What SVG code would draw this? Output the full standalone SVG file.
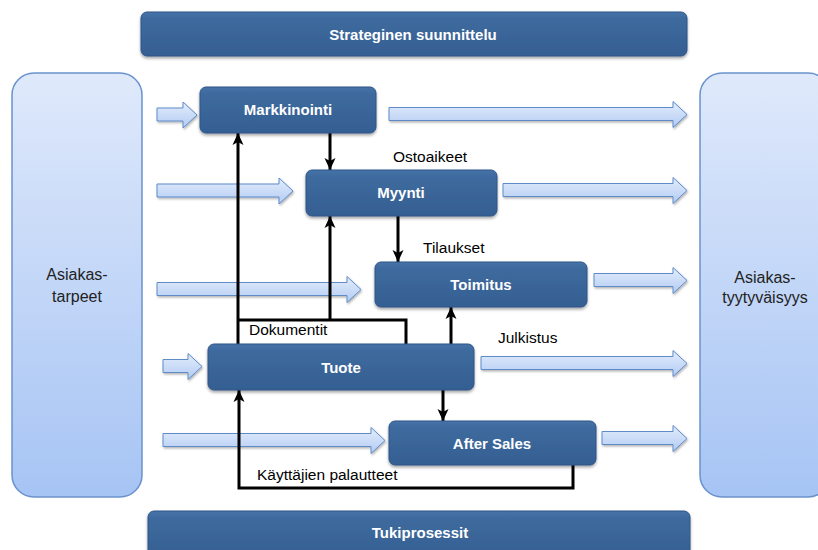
<svg xmlns="http://www.w3.org/2000/svg" width="818" height="550" viewBox="0 0 818 550">
<defs>
<linearGradient id="gNode" x1="0" y1="0" x2="0" y2="1">
<stop offset="0" stop-color="#4673a8"/>
<stop offset="0.15" stop-color="#3e6a9e"/>
<stop offset="1" stop-color="#355f92"/>
</linearGradient>
<linearGradient id="gSide" x1="0" y1="0" x2="0" y2="1">
<stop offset="0" stop-color="#dfe9fb"/>
<stop offset="1" stop-color="#a6c4f4"/>
</linearGradient>
<linearGradient id="gArr" x1="0" y1="0" x2="0" y2="1">
<stop offset="0" stop-color="#e4edfc"/>
<stop offset="1" stop-color="#b2cbf3"/>
</linearGradient>
<filter id="sh" x="-10%" y="-20%" width="120%" height="150%">
<feDropShadow dx="0" dy="2" stdDeviation="1.5" flood-color="#000" flood-opacity="0.35"/>
</filter>
<filter id="shA" x="-10%" y="-30%" width="120%" height="170%">
<feDropShadow dx="1" dy="1.5" stdDeviation="0.8" flood-color="#000" flood-opacity="0.3"/>
</filter>
<marker id="ah" markerUnits="userSpaceOnUse" markerWidth="14" markerHeight="14" refX="12" refY="7" orient="auto">
<path d="M0,1.5 L12,7 L0,12.5 L3,7 Z" fill="#000"/>
</marker>
<style>
.node{fill:url(#gNode);stroke:#2f5587;stroke-width:1;filter:url(#sh)}
.side{fill:url(#gSide);stroke:#6a92cc;stroke-width:1.5}
.barr{fill:url(#gArr);stroke:#5e8bc9;stroke-width:1;filter:url(#shA)}
.nt{font-family:"Liberation Sans",Arial,sans-serif;font-weight:bold;font-size:15px;fill:#fff;text-anchor:middle}
.st{font-family:"Liberation Sans",Arial,sans-serif;font-size:16px;fill:#222;text-anchor:middle}
.lb{font-family:"Liberation Sans",Arial,sans-serif;font-size:15.5px;fill:#000}
.con{fill:none;stroke:#000;stroke-width:3}
</style>
</defs>
<rect width="818" height="550" fill="#fff"/>

<g id="strateginen">
<rect class="node" x="141" y="12" width="546" height="44" rx="6"/>
<text class="nt" x="413" y="40">Strateginen suunnittelu</text>
</g>
<g id="tukiprosessit">
<rect class="node" x="148" y="511" width="542" height="50" rx="6"/>
<text class="nt" x="420" y="538">Tukiprosessit</text>
</g>
<g id="asiakastarpeet">
<rect class="side" x="12" y="73" width="130" height="424" rx="22"/>
<text class="st" x="77" y="280">Asiakas-</text>
<text class="st" x="77" y="302">tarpeet</text>
</g>
<g id="asiakastyytyvaisyys">
<rect class="side" x="700" y="73" width="130" height="424" rx="22"/>
<text class="st" x="765" y="283">Asiakas-</text>
<text class="st" x="765" y="303">tyytyväisyys</text>
</g>

<g id="flows">
<path class="barr" d="M157,108 H183 V102 L197,115 L183,128 V121 H157 Z"/>
<path class="barr" d="M389,107.5 H673 V101.5 L687,114.5 L673,127.5 V120.5 H389 Z"/>
<path class="barr" d="M157,184 H279 V178 L293,191 L279,204 V197 H157 Z"/>
<path class="barr" d="M503,183.5 H673 V177.5 L687,190.5 L673,203.5 V196.5 H503 Z"/>
<path class="barr" d="M157,282.5 H347 V276.5 L361,289.5 L347,302.5 V295.5 H157 Z"/>
<path class="barr" d="M594,273.5 H673 V267.5 L687,280.5 L673,293.5 V286.5 H594 Z"/>
<path class="barr" d="M163,359.5 H188 V353.5 L202,366.5 L188,379.5 V372.5 H163 Z"/>
<path class="barr" d="M481,356.5 H673 V350.5 L687,363.5 L673,376.5 V369.5 H481 Z"/>
<path class="barr" d="M163,433.5 H371 V427.5 L385,440.5 L371,453.5 V446.5 H163 Z"/>
<path class="barr" d="M602,431.5 H673 V425.5 L687,438.5 L673,451.5 V444.5 H602 Z"/>
</g>

<g id="connectors">
<path class="con" d="M330,133 V170" marker-end="url(#ah)"/>
<path class="con" d="M238,344 V133" marker-end="url(#ah)"/>
<path class="con" d="M406,344 V320 H238"/>
<path class="con" d="M330,320 V216" marker-end="url(#ah)"/>
<path class="con" d="M398,216 V262" marker-end="url(#ah)"/>
<path class="con" d="M451,344 V307" marker-end="url(#ah)"/>
<path class="con" d="M443,390 V421" marker-end="url(#ah)"/>
<path class="con" d="M573,465 V488 H239 V390" marker-end="url(#ah)"/>
</g>

<g id="markkinointi">
<rect class="node" x="200" y="87" width="176" height="46" rx="6"/>
<text class="nt" x="288" y="115">Markkinointi</text>
</g>
<g id="myynti">
<rect class="node" x="306" y="170" width="191" height="46" rx="6"/>
<text class="nt" x="401" y="198">Myynti</text>
</g>
<g id="toimitus">
<rect class="node" x="375" y="262" width="212" height="45" rx="6"/>
<text class="nt" x="481" y="290">Toimitus</text>
</g>
<g id="tuote">
<rect class="node" x="208" y="344" width="266" height="46" rx="6"/>
<text class="nt" x="341" y="373">Tuote</text>
</g>
<g id="aftersales">
<rect class="node" x="389" y="421" width="207" height="44" rx="6"/>
<text class="nt" x="492" y="449">After Sales</text>
</g>

<g id="labels">
<text class="lb" x="393" y="162">Ostoaikeet</text>
<text class="lb" x="423" y="253">Tilaukset</text>
<text class="lb" x="249" y="335">Dokumentit</text>
<text class="lb" x="498" y="343">Julkistus</text>
<text class="lb" x="257" y="480">Käyttäjien palautteet</text>
</g>
</svg>
